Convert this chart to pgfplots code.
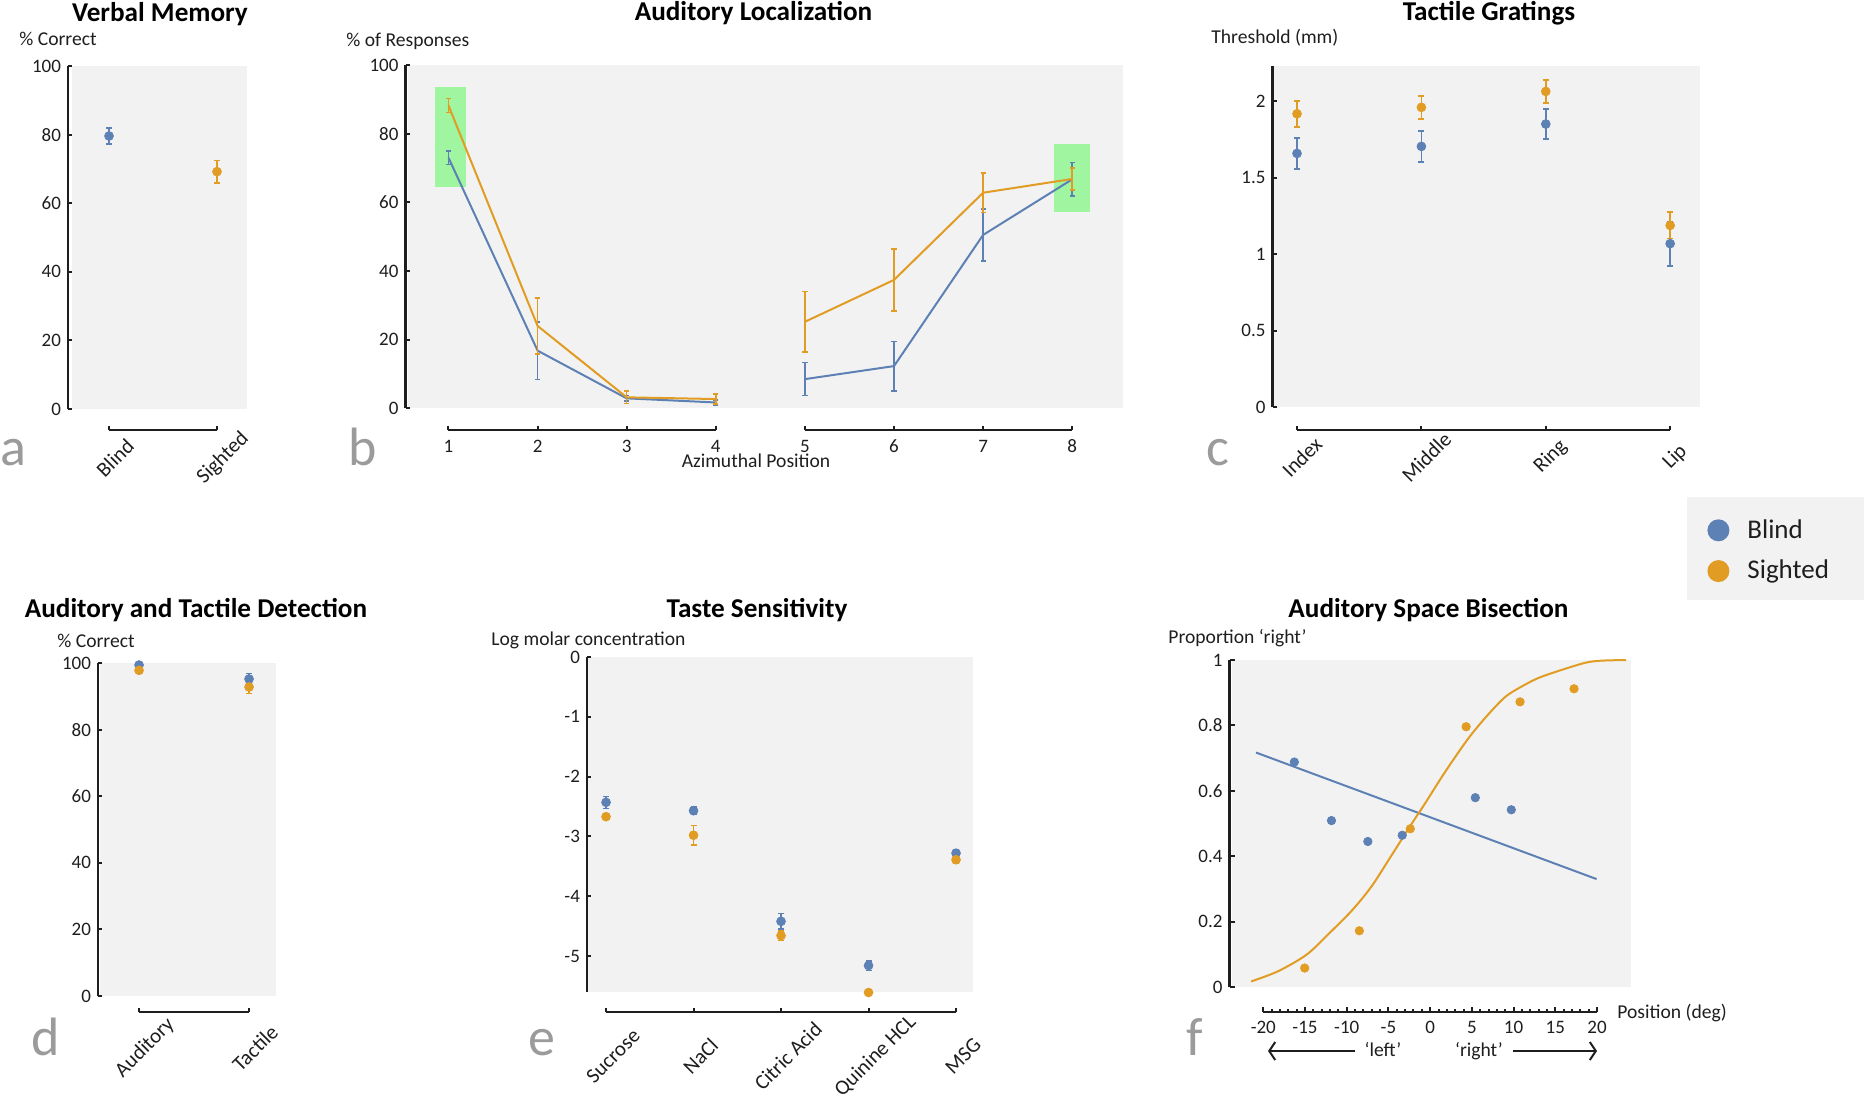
\documentclass[border=0pt]{standalone}
\usepackage{fontspec}
\setmainfont{Carlito}
\usepackage{pgfplots}
\pgfplotsset{compat=1.18}
\usetikzlibrary{arrows.meta}

\definecolor{blind}{RGB}{94,129,181}
\definecolor{sighted}{RGB}{225,156,36}
\definecolor{panelbg}{RGB}{242,242,242}
\definecolor{ink}{RGB}{30,30,30}
\definecolor{lettergray}{RGB}{155,155,155}
\definecolor{boxgreen}{RGB}{160,245,160}

\newcommand{\lab}{\fontsize{9.8}{11.8}\selectfont}
\newcommand{\tlab}{\fontsize{9.5}{11.4}\selectfont}
\newcommand{\rlab}{\fontsize{10.5}{12.6}\selectfont}
\newcommand{\ttl}{\fontsize{13.6}{16}\selectfont\bfseries}
\newcommand{\plet}{\fontsize{27}{30}\selectfont}

\tikzset{bracket/.style={line width=1.2pt, draw=ink}}
\pgfplotsset{
  panel/.style={
    scale only axis, clip=false,
    axis background/.style={fill=panelbg},
    axis x line*=bottom, axis y line*=left,
    x axis line style={draw=none},
    y axis line style={line width=1.2pt, draw=ink},
    tick style={draw=ink, line width=1pt},
    major tick length=2pt, minor tick length=1.2pt,
    tick align=inside,
    tick label style={font=\tlab, text=ink},
    /pgf/number format/assume math mode=true,
  },
  pts/.style={only marks, mark=*, mark size=2.2pt,
    error bars/y dir=both, error bars/y explicit,
    error bars/error bar style={line width=0.8pt},
    error bars/error mark options={rotate=90, line width=0.8pt, mark size=1.5pt}},
  eline/.style={no marks, line width=1pt,
    error bars/y dir=both, error bars/y explicit,
    error bars/error bar style={line width=0.8pt},
    error bars/error mark options={rotate=90, line width=0.8pt, mark size=1.3pt}},
}

\begin{document}
\begin{tikzpicture}
\useasboundingbox (0pt,0pt) rectangle (932pt,-549.5pt);

\begin{scope}[x=0.5pt, y=-0.5pt]
  \fill[panelbg] (1687,497) rectangle (1864,600);
  % titles
  \node[anchor=base, inner sep=0pt, font=\ttl] at (160,21) {Verbal Memory};
  \node[anchor=base, inner sep=0pt, font=\ttl] at (753.5,20) {Auditory Localization};
  \node[anchor=base, inner sep=0pt, font=\ttl] at (1489,20) {Tactile Gratings};
  \node[anchor=base, inner sep=0pt, font=\ttl] at (196,617) {Auditory and Tactile Detection};
  \node[anchor=base, inner sep=0pt, font=\ttl] at (757,617) {Taste Sensitivity};
  \node[anchor=base, inner sep=0pt, font=\ttl] at (1428.5,617) {Auditory Space Bisection};
  % y labels
  \node[anchor=base west, inner sep=0pt, font=\lab, text=ink] at (19,45) {\% Correct};
  \node[anchor=base west, inner sep=0pt, font=\lab, text=ink] at (346,46) {\% of Responses};
  \node[anchor=base west, inner sep=0pt, font=\lab, text=ink] at (1211,43) {Threshold (mm)};
  \node[anchor=base west, inner sep=0pt, font=\lab, text=ink] at (57,647) {\% Correct};
  \node[anchor=base west, inner sep=0pt, font=\lab, text=ink] at (491,645) {Log molar concentration};
  \node[anchor=base west, inner sep=0pt, font=\lab, text=ink] at (1168,643) {Proportion ‘right’};
  % panel letters
  \node[anchor=base west, inner sep=0pt, font=\plet, text=lettergray] at (0,465) {a};
  \node[anchor=base west, inner sep=0pt, font=\plet, text=lettergray] at (348,465) {b};
  \node[anchor=base west, inner sep=0pt, font=\plet, text=lettergray] at (1206,465) {c};
  \node[anchor=base west, inner sep=0pt, font=\plet, text=lettergray] at (31,1055) {d};
  \node[anchor=base west, inner sep=0pt, font=\plet, text=lettergray] at (528,1055) {e};
  \node[anchor=base west, inner sep=0pt, font=\plet, text=lettergray] at (1186,1055) {f};
  % other texts
  \node[anchor=base, inner sep=0pt, font=\lab, text=ink] at (756,467) {Azimuthal Position};
  \node[anchor=base, inner sep=0pt, font=\lab, text=ink] at (448,78) {correct};
  \node[anchor=base, inner sep=0pt, font=\lab, text=ink] at (1071,133) {correct};
  \node[anchor=base west, inner sep=0pt, font=\lab, text=ink] at (1617,1018) {Position (deg)};
  \node[anchor=base, inner sep=0pt, font=\lab, text=ink] at (1383,1056) {‘left’};
  \node[anchor=base, inner sep=0pt, font=\lab, text=ink] at (1479,1056) {‘right’};
  \draw[ink, line width=1pt, -{Straight Barb[length=3pt,width=9pt]}] (1355,1051) -- (1268,1051);
  \draw[ink, line width=1pt, -{Straight Barb[length=3pt,width=9pt]}] (1513,1051) -- (1597,1051);
\end{scope}

% ---------------- a: Verbal Memory
\begin{axis}[panel, at={(36pt,-204.5pt)}, anchor=south west,
  width=87.5pt, height=171.5pt,
  xmin=-0.343, xmax=1.278, ymin=0, ymax=100,
  xtick={0,1}, xticklabels={Blind,Sighted}, ytick={0,20,...,100},
  axis y line shift=2pt, axis x line shift=10.5pt,
  xticklabel style={font=\rlab, xshift=3pt, yshift=-14pt, rotate=45, anchor=center}]
  \draw[bracket] ([yshift=-10.5pt]axis cs:0,0) -- ([yshift=-10.5pt]axis cs:1,0);
  \addplot[blind, pts] coordinates {(0,79.6) +- (0,2.4)};
  \addplot[sighted, pts] coordinates {(1,69.2) +- (0,3.3)};
\end{axis}

% ---------------- b: Auditory Localization
\begin{axis}[panel, at={(203.75pt,-204.15pt)}, anchor=south west,
  width=357.75pt, height=171.65pt,
  xmin=0.54, xmax=8.57, ymin=0, ymax=100,
  xtick={1,...,8}, ytick={0,20,...,100},
  axis y line shift=1pt, axis x line shift=10.85pt,
  xticklabel style={anchor=center, yshift=-8pt}]
  \draw[bracket] ([yshift=-10.85pt]axis cs:1,0) -- ([yshift=-10.85pt]axis cs:4,0);
  \draw[bracket] ([yshift=-10.85pt]axis cs:5,0) -- ([yshift=-10.85pt]axis cs:8,0);
  \addplot[fill=boxgreen, draw=none, forget plot] coordinates {(0.845,64.5) (1.2,64.5) (1.2,93.6) (0.845,93.6)} -- cycle;
  \addplot[fill=boxgreen, draw=none, forget plot] coordinates {(7.79,57.1) (8.2,57.1) (8.2,77.0) (7.79,77.0)} -- cycle;
  \addplot[blind, eline] coordinates {(1,73) +- (0,2) (2,16.8) +- (0,8.4) (3,2.9) +- (0,0.8) (4,1.7) +- (0,0.8)};
  \addplot[blind, eline] coordinates {(5,8.5) +- (0,4.8) (6,12.3) +- (0,7.2) (7,50.5) +- (0,7.6) (8,66.7) +- (0,4.9)};
  \addplot[sighted, eline] coordinates {(1,88.2) +- (0,2) (2,24) +- (0,8.2) (3,3.2) +- (0,1.8) (4,2.7) +- (0,1.5)};
  \addplot[sighted, eline] coordinates {(5,25.2) +- (0,8.8) (6,37.4) +- (0,9) (7,62.8) +- (0,5.8) (8,66.8) +- (0,3.2)};
\end{axis}

% ---------------- c: Tactile Gratings
\begin{axis}[panel, at={(637pt,-203.65pt)}, anchor=south west,
  width=213pt, height=170.65pt,
  xmin=-0.185, xmax=3.24, ymin=0, ymax=2.229,
  xtick={0,1,2,3}, xticklabels={Index,Middle,Ring,Lip}, ytick={0,0.5,...,2},
  yticklabel style={/pgf/number format/.cd, fixed, precision=1},
  axis y line shift=0.75pt, axis x line shift=11.35pt,
  xticklabel style={font=\rlab, xshift=2.5pt, yshift=-13.5pt, rotate=45, anchor=center},
  legend image code/.code={\fill[#1, draw=none] (5.5pt,0pt) circle (5.5pt); \path[draw=none, fill=none] (0pt,0pt) rectangle (18pt,0.1pt);},
  legend style={at={(axis description cs:0.9695,-0.2688)}, anchor=north west,
    draw=none, fill=none, font=\fontsize{13.5}{16}\selectfont, text=ink,
    inner xsep=10pt, inner ysep=8pt, row sep=5.5pt},
  legend cell align=left]
  \draw[bracket] ([yshift=-11.35pt]axis cs:0,0) -- ([yshift=-11.35pt]axis cs:3,0);
  \addplot[forget plot, blind, pts] coordinates {(0,1.658) +- (0,0.10) (1,1.704) +- (0,0.10) (2,1.850) +- (0,0.097) (3,1.069) +- (0,0.145)};
  \addplot[forget plot, sighted, pts] coordinates {(0,1.917) +- (0,0.085) (1,1.959) +- (0,0.075) (2,2.063) +- (0,0.074) (3,1.188) +- (0,0.086)};
  \addlegendimage{blind}
  \addlegendentry{Blind}
  \addlegendimage{sighted}
  \addlegendentry{Sighted}
\end{axis}

% ---------------- d: Auditory and Tactile Detection
\begin{axis}[panel, at={(50pt,-498pt)}, anchor=south west,
  width=88pt, height=166.5pt,
  xmin=-0.355, xmax=1.245, ymin=0, ymax=100,
  xtick={0,1}, xticklabels={Auditory,Tactile}, ytick={0,20,...,100},
  axis y line shift=1pt, axis x line shift=8pt,
  xticklabel style={font=\rlab, xshift=3pt, yshift=-18pt, rotate=45, anchor=center}]
  \draw[bracket] ([yshift=-8pt]axis cs:0,0) -- ([yshift=-8pt]axis cs:1,0);
  \addplot[blind, pts] coordinates {(0,99.4) +- (0,0.6) (1,95.2) +- (0,1.6)};
  \addplot[sighted, pts] coordinates {(0,97.8) +- (0,0.7) (1,92.8) +- (0,2)};
\end{axis}

% ---------------- e: Taste Sensitivity
\begin{axis}[panel, at={(294pt,-496pt)}, anchor=south west,
  width=192.5pt, height=167.5pt,
  xmin=-0.206, xmax=4.194, ymin=-5.602, ymax=0,
  xtick={0,1,2,3,4}, xticklabels={Sucrose,NaCl,Citric Acid,Quinine HCL,MSG},
  ytick={-5,-4,...,0},
  axis y line shift=0.5pt, axis x line shift=10pt,
  xticklabel style={font=\rlab, xshift=3.5pt, yshift=-22pt, rotate=45, anchor=center}]
  \draw[bracket] ([yshift=-10pt]axis cs:0,-5.602) -- ([yshift=-10pt]axis cs:4,-5.602);
  \addplot[blind, pts] coordinates {(0,-2.43) +- (0,0.1) (1,-2.57) +- (0,0.06) (2,-4.42) +- (0,0.13) (3,-5.16) +- (0,0.08) (4,-3.28) +- (0,0.05)};
  \addplot[sighted, pts] coordinates {(0,-2.67) +- (0,0.05) (1,-2.98) +- (0,0.16) (2,-4.66) +- (0,0.08) (3,-5.61) +- (0,0.05) (4,-3.39) +- (0,0.05)};
\end{axis}

% ---------------- f: Auditory Space Bisection
\begin{axis}[panel, at={(616pt,-493.5pt)}, anchor=south west,
  width=199.5pt, height=163.5pt,
  xmin=-23.75, xmax=24.07, ymin=0, ymax=1,
  xtick={-20,-15,...,20}, minor xtick={-20,-19,...,20}, ytick={0,0.2,...,1},
  yticklabel style={/pgf/number format/.cd, fixed, precision=1},
  major tick length=2.5pt,
  axis y line shift=1.2pt, axis x line shift=12.35pt,
  xticklabel style={anchor=center, yshift=-8pt}]
  \draw[bracket] ([yshift=-12.35pt]axis cs:-20,0) -- ([yshift=-12.35pt]axis cs:20,0);
  \addplot[blind, line width=1pt, no marks] coordinates {(-20.87,0.717) (19.95,0.330)};
  \addplot[sighted, line width=1pt, no marks, smooth] coordinates {
    (-21.46,0.017) (-18.25,0.048) (-14.81,0.099) (-12.07,0.165) (-9.31,0.236)
    (-7.02,0.308) (-4.72,0.399) (-2.43,0.491) (-0.60,0.562) (1.69,0.654)
    (4.45,0.756) (6.73,0.827) (9.04,0.888) (11.32,0.924) (13.16,0.947)
    (15.91,0.971) (18.66,0.992) (20.49,0.998) (23.48,1.0)};
  \addplot[blind, only marks, mark=*, mark size=2.1pt] coordinates {
    (-16.28,0.688) (-11.83,0.509) (-7.47,0.445) (-3.35,0.464) (5.41,0.579) (9.72,0.542)};
  \addplot[sighted, only marks, mark=*, mark size=2.1pt] coordinates {
    (-15.04,0.058) (-8.49,0.172) (-2.38,0.484) (4.31,0.796) (10.77,0.872) (17.24,0.912)};
\end{axis}
\end{tikzpicture}
\end{document}
